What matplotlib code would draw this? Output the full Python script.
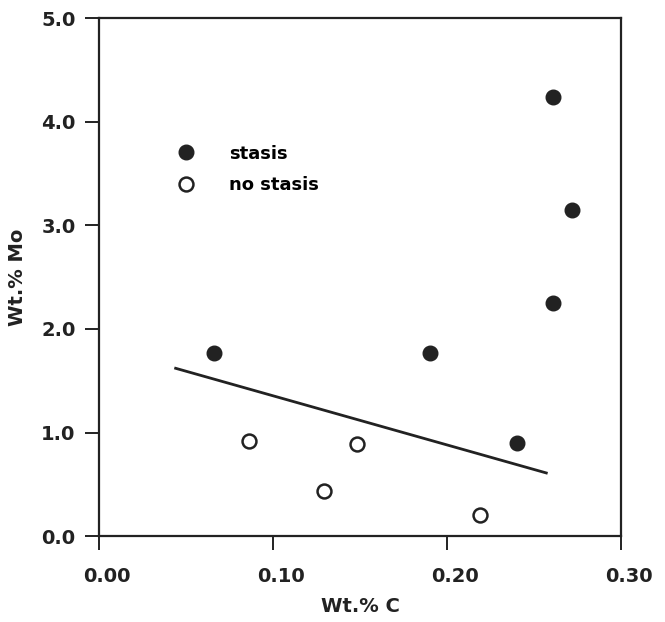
import matplotlib
matplotlib.use("Agg")
import matplotlib.pyplot as plt
import matplotlib.transforms as mtransforms
from matplotlib.ticker import FormatStrFormatter

# Data
stasis_c = [0.066, 0.190, 0.240, 0.261, 0.261, 0.272]
stasis_mo = [1.77, 1.77, 0.90, 2.25, 4.24, 3.15]
no_stasis_c = [0.086, 0.129, 0.148, 0.219]
no_stasis_mo = [0.92, 0.44, 0.89, 0.20]

# Trend line end points
trend_c = [0.044, 0.257]
trend_mo = [1.62, 0.61]

x_ticks = [0.00, 0.10, 0.20, 0.30]
y_ticks = [0.0, 1.0, 2.0, 3.0, 4.0, 5.0]

ink = "#222222"
plt.rcParams["font.family"] = ["DejaVu Sans"]
plt.rcParams["font.weight"] = "bold"

fig = plt.figure(figsize=(6.65, 6.22), dpi=100)
ax = fig.add_axes([0.149, 0.138, 0.785, 0.833])

ax.plot(trend_c, trend_mo, color=ink, linewidth=2.0, zorder=2)
ax.plot(stasis_c, stasis_mo, linestyle="none", marker="o", markersize=10.5,
        markerfacecolor=ink, markeredgecolor=ink, label="stasis", zorder=3)
ax.plot(no_stasis_c, no_stasis_mo, linestyle="none", marker="o", markersize=10,
        markerfacecolor="white", markeredgecolor=ink, markeredgewidth=1.8,
        label="no stasis", zorder=3)

ax.set_xlim(0, 0.30)
ax.set_ylim(0, 5.0)
ax.set_xticks(x_ticks)
ax.set_yticks(y_ticks)
ax.xaxis.set_major_formatter(FormatStrFormatter("%.2f"))
ax.yaxis.set_major_formatter(FormatStrFormatter("%.1f"))

for side in ax.spines.values():
    side.set_linewidth(1.6)
    side.set_color(ink)
ax.tick_params(direction="out", length=10, width=1.4, color=ink,
               labelsize=14, labelcolor=ink)
ax.tick_params(axis="x", pad=12)
ax.tick_params(axis="y", pad=7)

# x tick labels sit a little right of their ticks in the original
shift = mtransforms.ScaledTranslation(8 / 100, 0, fig.dpi_scale_trans)
for lab in ax.get_xticklabels():
    lab.set_transform(lab.get_transform() + shift)

ax.set_xlabel("Wt.% C", fontsize=14, fontweight="bold", color=ink, labelpad=8)
ax.set_ylabel("Wt.% Mo", fontsize=14, fontweight="bold", color=ink, labelpad=10)

ax.legend(loc="upper left", bbox_to_anchor=(0.125, 0.78), frameon=False,
          fontsize=13, handlelength=1.0, handletextpad=1.9, labelspacing=0.75,
          borderpad=0.2)

fig.savefig("out.png", dpi=100)
